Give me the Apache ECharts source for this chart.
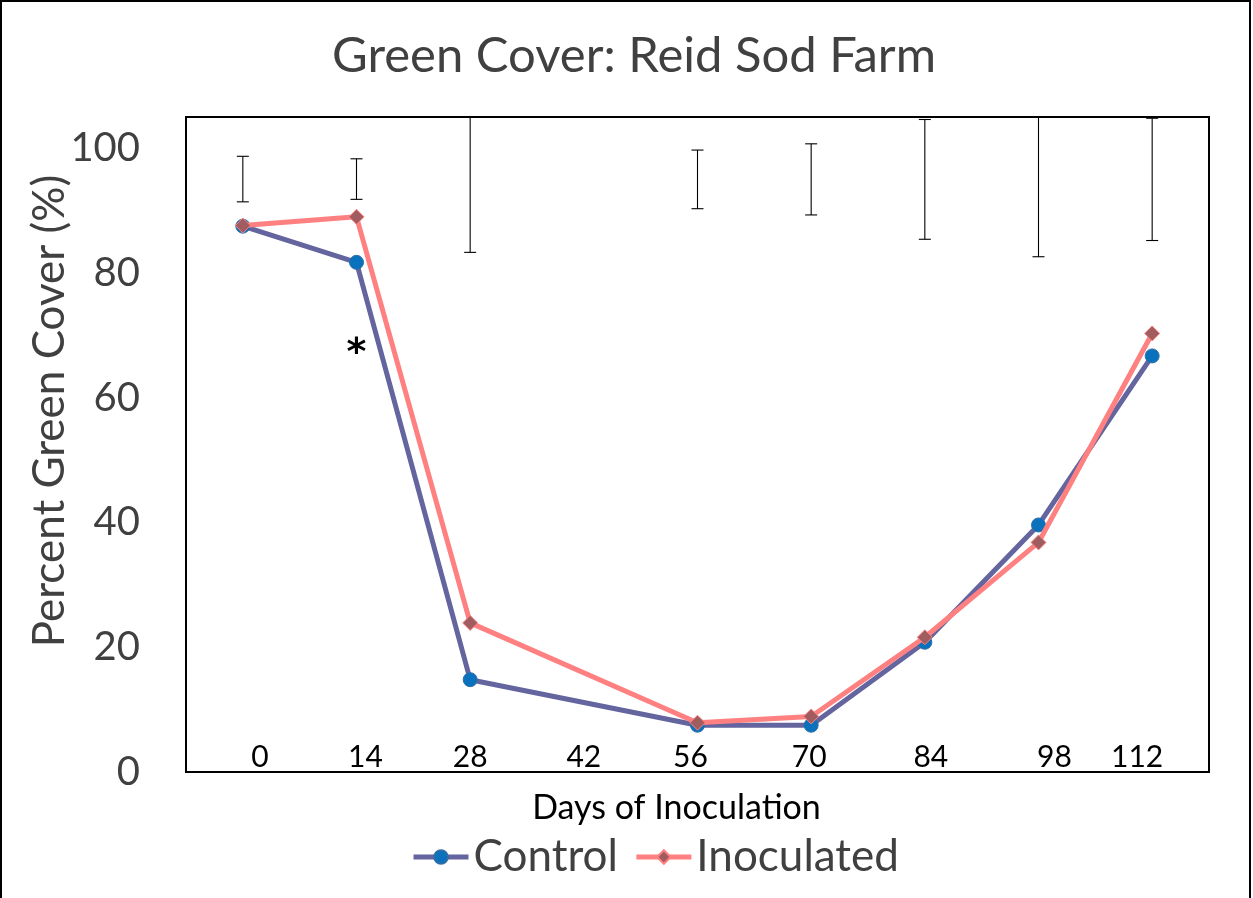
<!DOCTYPE html>
<html>
<head>
<meta charset="utf-8">
<script src="https://cdn.jsdelivr.net/npm/echarts@6/dist/echarts.min.js"></script>
<style>
html,body{margin:0;padding:0;background:#fff;}
#chart{width:1253px;height:898px;}
</style>
</head>
<body>
<div id="chart"></div>
<script>
// ---- data ----
const days = ['0', '14', '28', '42', '56', '70', '84', '98', '112'];
const control = [87.5, 81.7, 14.8, null, 7.5, 7.5, 20.8, 39.6, 66.7];
const inoculated = [87.6, 89.0, 23.9, null, 7.9, 8.9, 21.6, 36.8, 70.3];
const errLow = [91.4, 91.8, 83.3, null, 90.3, 89.3, 85.4, 82.6, 85.2];
const errHigh = [98.7, 98.3, 106.7, null, 99.7, 100.7, 104.6, 107.4, 104.8];
const significance = { day: '14', value: 67, text: '*' };
const yTitle = 'Percent Green Cover (%)';

// ---- layout / style ----
const FONT = 'Lato';
const labelShift = [17, 9, 0, 0, -7, -2, 6, 16, -15]; // visual nudges of hand-placed x labels

const rich = {};
labelShift.forEach((s, i) => {
  rich['o' + i] = {
    fontFamily: FONT, fontSize: 30, color: '#000',
    padding: s >= 0 ? [0, 0, 0, 2 * s] : [0, -2 * s, 0, 0]
  };
});

const errData = days.map((d, i) => errLow[i] == null ? null : [i, errLow[i], errHigh[i]]).filter(v => v);

const chart = echarts.init(document.getElementById('chart'), null, { renderer: 'canvas' });
chart.setOption({
  animation: false,
  backgroundColor: '#fff',
  title: {
    text: 'Green Cover: Reid Sod Farm',
    left: 327, top: 27,
    textStyle: { fontFamily: FONT, fontSize: 49, fontWeight: 'normal', color: '#404040' }
  },
  grid: {
    left: 186, top: 117, right: 44, bottom: 126,
    show: true, borderColor: '#000', borderWidth: 2, backgroundColor: 'transparent'
  },
  legend: {
    left: 406, top: 830,
    itemWidth: 55, itemHeight: 17, itemGap: 16,
    lineStyle: { width: 5 },
    textStyle: { fontFamily: FONT, fontSize: 44, color: '#404040' },
    data: ['Control', 'Inoculated']
  },
  xAxis: {
    type: 'category',
    data: days,
    boundaryGap: true,
    name: 'Days of Inoculation',
    nameLocation: 'middle',
    nameGap: 19,
    nameTextStyle: { fontFamily: FONT, fontSize: 34, color: '#000', padding: [0, 42, 0, 0], verticalAlign: 'top' },
    axisLine: { show: true, lineStyle: { color: '#000', width: 2 } },
    axisTick: { show: false },
    axisLabel: {
      inside: true, margin: 0, interval: 0,
      formatter: (v, i) => '{o' + i + '|' + v + '}',
      rich: rich
    },
    splitLine: { show: false }
  },
  yAxis: {
    type: 'value',
    min: 0, max: 105, interval: 20,
    axisLine: { show: true, lineStyle: { color: '#000', width: 2 } },
    axisTick: { show: false },
    axisLabel: {
      margin: 46,
      fontFamily: FONT, fontSize: 40, color: '#404040',
      formatter: v => (v % 20 === 0 ? String(v) : '')
    },
    splitLine: { show: false }
  },
  series: [
    {
      name: 'Control',
      type: 'line',
      data: control,
      connectNulls: true,
      symbol: 'circle',
      symbolSize: 14,
      lineStyle: { color: '#64649F', width: 5 },
      itemStyle: { color: '#0A72BD', borderColor: '#2D6FA8', borderWidth: 1 },
      z: 3,
      markPoint: {
        symbol: 'circle', symbolSize: 1,
        itemStyle: { color: 'rgba(0,0,0,0)' },
        label: { show: true, position: 'inside', formatter: significance.text,
                 fontFamily: 'DejaVu Sans', fontSize: 38, fontWeight: 'bold', color: '#000' },
        data: [{ coord: [significance.day, significance.value] }]
      }
    },
    {
      name: 'Inoculated',
      type: 'line',
      data: inoculated,
      connectNulls: true,
      symbol: 'diamond',
      symbolSize: 15,
      lineStyle: { color: '#FF8080', width: 5 },
      itemStyle: { color: '#A05C5E', borderColor: '#FF8080', borderWidth: 1 },
      z: 4
    },
    {
      name: 'err',
      type: 'custom',
      clip: true,
      data: errData,
      encode: { x: 0, y: [1, 2] },
      renderItem: function (params, api) {
        const lo = api.coord([api.value(0), api.value(1)]);
        const hi = api.coord([api.value(0), api.value(2)]);
        const cw = 6;
        const st = { stroke: '#000', lineWidth: 1.1 };
        return {
          type: 'group',
          children: [
            { type: 'line', shape: { x1: lo[0], y1: lo[1], x2: hi[0], y2: hi[1] }, style: st },
            { type: 'line', shape: { x1: lo[0] - cw, y1: lo[1], x2: lo[0] + cw, y2: lo[1] }, style: st },
            { type: 'line', shape: { x1: hi[0] - cw, y1: hi[1], x2: hi[0] + cw, y2: hi[1] }, style: st }
          ]
        };
      },
      z: 2,
      silent: true
    }
  ],
  graphic: [
    { type: 'rect', shape: { x: 1, y: 1, width: 1249, height: 910 },
      style: { fill: 'none', stroke: '#000', lineWidth: 2 }, silent: true },
    { type: 'text', x: 50, y: 411, rotation: Math.PI / 2, silent: true,
      style: { text: yTitle, fontFamily: FONT, fontSize: 44, fill: '#404040',
               align: 'center', verticalAlign: 'middle' } }
  ]
});
</script>
</body>
</html>
